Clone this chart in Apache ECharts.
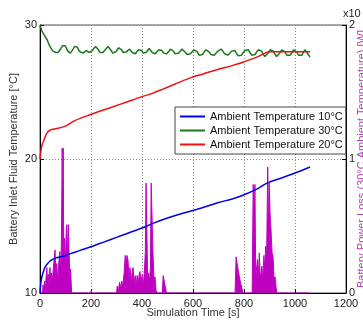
<!DOCTYPE html>
<html>
<head>
<meta charset="utf-8">
<script src="https://cdn.jsdelivr.net/npm/echarts@6/dist/echarts.min.js"></script>
<style>html,body{margin:0;padding:0;background:#fff;}#c{width:363px;height:320px;}</style>
</head>
<body>
<div id="c"></div>
<script>
var xTicks = [0, 200, 400, 600, 800, 1000, 1200];
var leftTicks = [10, 20, 30];
var rightTicks = [0, 1, 2];
var seriesNames = ['Ambient Temperature 10°C', 'Ambient Temperature 30°C', 'Ambient Temperature 20°C'];

var temp10 = [[0,10],[2,10.5],[5,11.0],[10,11.4],[15,11.7],[20,11.95],[30,12.2],[40,12.4],[60,12.6],[80,12.7],[100,12.8],[130,13.0],[160,13.2],[200,13.45],[250,13.8],[300,14.15],[350,14.5],[400,14.85],[450,15.25],[500,15.6],[550,15.9],[627,16.3],[700,16.75],[750,17.0],[796,17.3],[850,17.75],[890,18.2],[950,18.6],[1000,18.95],[1059,19.4]];

var temp30 = [[0,30.0],[4,29.75],[8,29.55],[13,29.35],[18,29.2],[23,29.05],[28,28.9],[33,28.65],[39,28.4],[45,28.2],[51,28.05],[57,27.95],[62,27.95],[67,28.05],[71,27.95],[76,28.05],[82,28.25],[88,28.45],[94,28.55],[99,28.45],[104,28.25],[109,28.05],[114,27.95],[119,27.9],[124,28.0],[130,28.2],[136,28.4],[141,28.5],[146,28.35],[151,28.15],[157,28.0],[163,27.9],[169,27.9],[175,28.0],[181,28.1],[186,28.05],[192,27.95],[198,27.9],[204,28.05],[211,28.25],[218,28.4],[224,28.35],[229,28.15],[235,27.95],[241,27.9],[247,27.95],[253,28.1],[260,28.25],[267,28.4],[273,28.35],[279,28.1],[285,27.9],[291,27.9],[297,28.0],[303,28.15],[309,28.3],[315,28.35],[320,28.15],[326,27.95],[332,27.9],[338,28.0],[345,28.1],[351,28.2],[356,28.1],[362,27.95],[368,27.85],[374,27.85],[380,28.0],[386,28.15],[392,28.25],[398,28.1],[404,27.9],[410,27.85],[416,27.95],[422,28.1],[428,28.25],[434,28.15],[440,27.95],[446,27.85],[452,27.85],[459,28.0],[466,28.15],[472,28.25],[478,28.1],[485,27.9],[491,27.8],[497,27.85],[504,28.0],[511,28.2],[517,28.25],[523,28.05],[530,27.85],[536,27.8],[543,27.9],[550,28.05],[557,28.2],[563,28.15],[570,27.95],[577,27.8],[583,27.75],[590,27.85],[597,28.0],[604,28.15],[611,28.2],[617,28.0],[624,27.75],[630,27.7],[637,27.8],[644,28.0],[651,28.15],[657,28.2],[663,28.0],[670,27.8],[676,27.7],[683,27.75],[690,27.9],[697,28.05],[704,28.15],[711,28.2],[717,28.05],[724,27.85],[730,27.75],[737,27.75],[744,27.9],[751,28.05],[758,28.15],[764,28.1],[770,27.9],[777,27.7],[783,27.65],[790,27.75],[797,27.95],[804,28.1],[811,28.2],[817,28.15],[823,27.95],[830,27.75],[836,27.7],[843,27.8],[850,28.0],[857,28.15],[863,28.2],[869,28.05],[876,27.8],[882,27.65],[889,27.7],[896,27.95],[903,28.15],[909,28.2],[915,28.05],[922,27.8],[928,27.65],[935,27.7],[942,27.95],[948,28.15],[955,28.2],[961,28.0],[968,27.75],[974,27.65],[981,27.75],[988,27.95],[994,28.15],[1000,28.2],[1007,28.0],[1014,27.75],[1020,27.65],[1027,27.75],[1034,28.0],[1040,28.15],[1046,28.1],[1052,27.8],[1059,27.6]];

var temp20 = [[0,20],[3,20.5],[6,20.9],[10,21.15],[15,21.4],[20,21.65],[26,21.9],[35,22.1],[46,22.2],[70,22.3],[91,22.4],[110,22.55],[130,22.8],[160,23.05],[196,23.3],[240,23.6],[287,23.9],[340,24.25],[392,24.6],[440,24.9],[480,25.2],[530,25.6],[582,26.0],[640,26.35],[700,26.7],[750,26.95],[793,27.2],[850,27.6],[902,28.0],[1059,28.0]];

var powerLoss = [[0,0],[10,0],[12,0.06],[14,0.02],[18,0.09],[21,0.03],[24,0.12],[27,0.19],[29,0.08],[32,0.14],[35,0.05],[39,0.19],[42,0.1],[45,0.15],[48,0.07],[52,0.18],[55,0.24],[59,0.32],[62,0.14],[66,0.22],[69,0.09],[73,0.2],[76,0.28],[78,0.31],[81,0.15],[84,0.38],[87,1.08],[89,0.6],[91,1.08],[93,0.3],[96,0.41],[99,0.2],[102,0.41],[105,0.51],[108,0.25],[111,0.51],[114,0.3],[117,0.12],[120,0.18],[124,0],[199,0],[201,0.02],[203,0],[300,0],[303,0.05],[306,0],[312,0.08],[316,0.03],[320,0.09],[324,0.05],[330,0.15],[334,0.28],[338,0.22],[341,0.28],[345,0.25],[349,0.1],[353,0.19],[357,0.08],[361,0.15],[365,0.19],[369,0.07],[373,0.13],[377,0.05],[381,0.13],[385,0.06],[389,0.14],[392,0.16],[396,0.07],[401,0.14],[405,0.05],[409,0.15],[413,0.3],[416,0.82],[419,0.82],[422,0.12],[426,0.15],[430,0.08],[433,0.2],[436,0.82],[440,0.82],[443,0.3],[447,0.1],[451,0.12],[455,0.02],[460,0],[480,0],[483,0.13],[487,0.12],[491,0.05],[496,0],[765,0],[769,0.27],[773,0.22],[779,0.15],[786,0.08],[796,0],[832,0],[836,0.81],[840,0.6],[843,0.81],[846,0.12],[850,0.2],[853,0.25],[857,0.12],[860,0.3],[863,0.15],[866,0.12],[870,0.2],[874,0.1],[878,0.28],[881,0.18],[885,0.35],[889,0.3],[893,0.94],[896,0.5],[899,0.82],[902,0.6],[906,0.47],[910,0.3],[914,0.27],[918,0.1],[922,0.12],[926,0.04],[929,0],[1055,0]];

var chart = echarts.init(document.getElementById('c'), null, {renderer: 'canvas'});
var FONT = 'Liberation Sans';
var plain = function (v) { return String(v); };
chart.setOption({
  backgroundColor: '#fff',
  animation: false,
  textStyle: {fontFamily: FONT},
  grid: {left: 40, right: 17, top: 25, bottom: 27, containLabel: false, outerBoundsMode: 'none',
    show: true, borderColor: '#555', borderWidth: 1, backgroundColor: 'transparent'},
  legend: {
    data: seriesNames,
    orient: 'vertical',
    left: 175,
    top: 107,
    backgroundColor: '#fff',
    borderColor: '#444',
    borderWidth: 1,
    borderRadius: 0,
    padding: [3, 3, 3, 5],
    icon: 'rect',
    itemWidth: 25,
    itemHeight: 2,
    itemGap: 1,
    textStyle: {fontFamily: FONT, fontSize: 11, color: '#111', lineHeight: 13}
  },
  xAxis: {
    type: 'value', min: xTicks[0], max: xTicks[xTicks.length - 1], interval: 200,
    name: 'Simulation Time [s]', nameLocation: 'middle', nameGap: 14, nameMoveOverlap: false,
    nameTextStyle: {fontFamily: FONT, fontSize: 11, color: '#333'},
    axisLine: {show: true, lineStyle: {color: '#000', width: 1}},
    axisTick: {show: true, inside: true, length: 4, lineStyle: {color: '#000'}},
    axisLabel: {fontFamily: FONT, fontSize: 11, color: '#222', margin: 5, formatter: plain},
    splitLine: {show: true, lineStyle: {color: '#888', type: [1, 2], width: 1}}
  },
  yAxis: [{
    type: 'value', min: leftTicks[0], max: leftTicks[leftTicks.length - 1], interval: 10,
    name: 'Battery Inlet Fluid Temperature [°C]', nameLocation: 'middle', nameGap: 21, nameMoveOverlap: false,
    nameTextStyle: {fontFamily: FONT, fontSize: 11, color: '#333'},
    axisLine: {show: true, lineStyle: {color: '#000', width: 1}},
    axisTick: {show: true, inside: true, length: 4, lineStyle: {color: '#000'}},
    axisLabel: {fontFamily: FONT, fontSize: 11, color: '#222', margin: 3, formatter: plain},
    splitLine: {show: true, lineStyle: {color: '#888', type: [1, 2], width: 1}}
  }, {
    type: 'value', min: rightTicks[0], max: rightTicks[rightTicks.length - 1], interval: 1, position: 'right',
    name: 'Battery Power Loss (30°C Ambient Temperature) [W]', nameLocation: 'middle', nameGap: 10, nameMoveOverlap: false,
    nameTextStyle: {fontFamily: FONT, fontSize: 11, color: '#b040b0'},
    axisLine: {show: true, lineStyle: {color: '#000', width: 1}},
    axisTick: {show: true, inside: true, length: 4, lineStyle: {color: '#000'}},
    axisLabel: {fontFamily: FONT, fontSize: 11, color: '#222', margin: 3, formatter: plain},
    splitLine: {show: false}
  }],
  graphic: [{
    type: 'text', left: 343, top: 8,
    style: {text: 'x10', font: '11px "Liberation Sans"', fill: '#222'}
  }],
  series: [{
    name: 'Power Loss', type: 'line', yAxisIndex: 1, data: powerLoss, symbol: 'none', z: 1,
    lineStyle: {color: '#c000c0', width: 1}, areaStyle: {color: '#c000c0', opacity: 1}, itemStyle: {color: '#c000c0'}
  }, {
    name: seriesNames[0], type: 'line', data: temp10, symbol: 'none', smooth: 0.3, z: 3,
    lineStyle: {color: '#0000ee', width: 1.5}, itemStyle: {color: '#0000ee'}
  }, {
    name: seriesNames[1], type: 'line', data: temp30, symbol: 'none', z: 3,
    lineStyle: {color: '#1a7a1a', width: 1.5}, itemStyle: {color: '#1a7a1a'}
  }, {
    name: seriesNames[2], type: 'line', data: temp20, symbol: 'none', smooth: 0.3, z: 3,
    lineStyle: {color: '#ee1111', width: 1.5}, itemStyle: {color: '#ee1111'}
  }]
});
</script>
</body>
</html>
